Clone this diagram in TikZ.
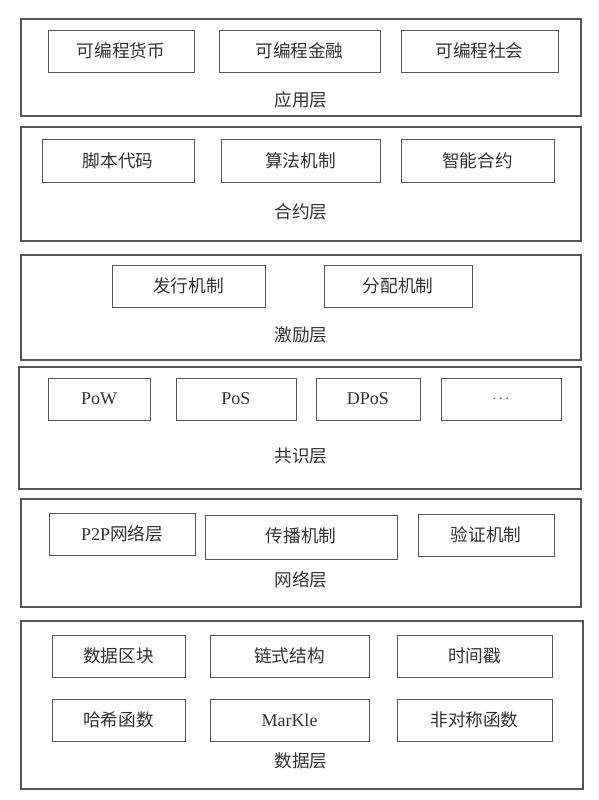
\documentclass[tikz,border=0pt]{standalone}
\usepackage{fontspec}
\setmainfont{Liberation Serif}
\newfontfamily\cjk{Noto Sans CJK SC}[Scale=0.98]

\tikzset{every picture/.style={line width=0.75pt}}
\tikzset{
  layerbox/.style={draw={rgb, 255:red, 85; green, 85; blue, 85 }, line width=0.8pt},
  itembox/.style={draw={rgb, 255:red, 85; green, 85; blue, 85 }, line width=0.75pt},
  lbl/.style={inner sep=0.75pt, text={rgb, 255:red, 50; green, 50; blue, 50 }, font=\fontsize{13.5pt}{16pt}\selectfont}
}

\begin{document}
\begin{tikzpicture}[x=0.75pt,y=0.75pt,yscale=-1,xscale=1]
    \useasboundingbox (0,0) rectangle (599,800);

    %Shape: Rectangle [应用层]
    \draw [layerbox] (21,19) rectangle (581,116);
    \draw [itembox] (48,30) rectangle (194,72);
    \draw [itembox] (219,30) rectangle (380,72);
    \draw [itembox] (401,30) rectangle (558,72);
    %Shape: Rectangle [合约层]
    \draw [layerbox] (21,127) rectangle (581,241);
    \draw [itembox] (42,139) rectangle (194,182);
    \draw [itembox] (221,139) rectangle (380,182);
    \draw [itembox] (401,139) rectangle (554,182);
    %Shape: Rectangle [激励层]
    \draw [layerbox] (21,255) rectangle (581,360);
    \draw [itembox] (112,265) rectangle (265,307);
    \draw [itembox] (324,265) rectangle (472,307);
    %Shape: Rectangle [共识层]
    \draw [layerbox] (19,367) rectangle (581,489);
    \draw [itembox] (48,378) rectangle (150,420);
    \draw [itembox] (176,378) rectangle (296,420);
    \draw [itembox] (316,378) rectangle (420,420);
    \draw [itembox] (441,378) rectangle (561,420);
    %Shape: Rectangle [网络层]
    \draw [layerbox] (21,499) rectangle (581,607);
    \draw [itembox] (49,513) rectangle (195,555);
    \draw [itembox] (205,515) rectangle (397,559);
    \draw [itembox] (418,514) rectangle (554,556);
    %Shape: Rectangle [数据层]
    \draw [layerbox] (21,621) rectangle (583,789);
    \draw [itembox] (52,635) rectangle (185,677);
    \draw [itembox] (210,635) rectangle (369,677);
    \draw [itembox] (397,635) rectangle (552,677);
    \draw [itembox] (52,699) rectangle (185,741);
    \draw [itembox] (210,699) rectangle (369,741);
    \draw [itembox] (397,699) rectangle (552,741);

    % Text Node
    \node [lbl] (hb) at (121,51) {\cjk 可编程货币};
    % Text Node
    \node [lbl] (jr) at (299.5,51) {\cjk 可编程金融};
    % Text Node
    \node [lbl] (sh) at (479.5,51) {\cjk 可编程社会};
    % Text Node
    \node [lbl] (yyc) at (301,100) {\cjk 应用层};
    % Text Node
    \node [lbl] (jb) at (118,160.5) {\cjk 脚本代码};
    % Text Node
    \node [lbl] (sf) at (300.5,160.5) {\cjk 算法机制};
    % Text Node
    \node [lbl] (zn) at (477.5,160.5) {\cjk 智能合约};
    % Text Node
    \node [lbl] (hyc) at (301,212) {\cjk 合约层};
    % Text Node
    \node [lbl] (fx) at (188.5,286) {\cjk 发行机制};
    % Text Node
    \node [lbl] (fp) at (398,286) {\cjk 分配机制};
    % Text Node
    \node [lbl] (jlc) at (301,335) {\cjk 激励层};
    % Text Node
    \node [lbl] (pow) at (99,399) {PoW};
    % Text Node
    \node [lbl] (pos) at (236,399) {PoS};
    % Text Node
    \node [lbl] (dpos) at (368,399) {DPoS};
    % Text Node
    \node [lbl, font=\fontsize{11pt}{13pt}\selectfont] (etc) at (501,399) {$\cdots$};
    % Text Node
    \node [lbl] (gsc) at (301,456) {\cjk 共识层};
    % Text Node
    \node [lbl] (p2p) at (122,534) {P2P{\cjk 网络层}};
    % Text Node
    \node [lbl] (cb) at (301,536) {\cjk 传播机制};
    % Text Node
    \node [lbl] (yz) at (486,535) {\cjk 验证机制};
    % Text Node
    \node [lbl] (wlc) at (301,580) {\cjk 网络层};
    % Text Node
    \node [lbl] (qk) at (118.5,656) {\cjk 数据区块};
    % Text Node
    \node [lbl] (ls) at (289.5,656) {\cjk 链式结构};
    % Text Node
    \node [lbl] (sj) at (474.5,656) {\cjk 时间戳};
    % Text Node
    \node [lbl] (hx) at (118.5,720) {\cjk 哈希函数};
    % Text Node
    \node [lbl] (mk) at (289.5,720) {MarKle};
    % Text Node
    \node [lbl] (fdc) at (474.5,720) {\cjk 非对称函数};
    % Text Node
    \node [lbl] (sjc) at (301,761) {\cjk 数据层};

\end{tikzpicture}
\end{document}
